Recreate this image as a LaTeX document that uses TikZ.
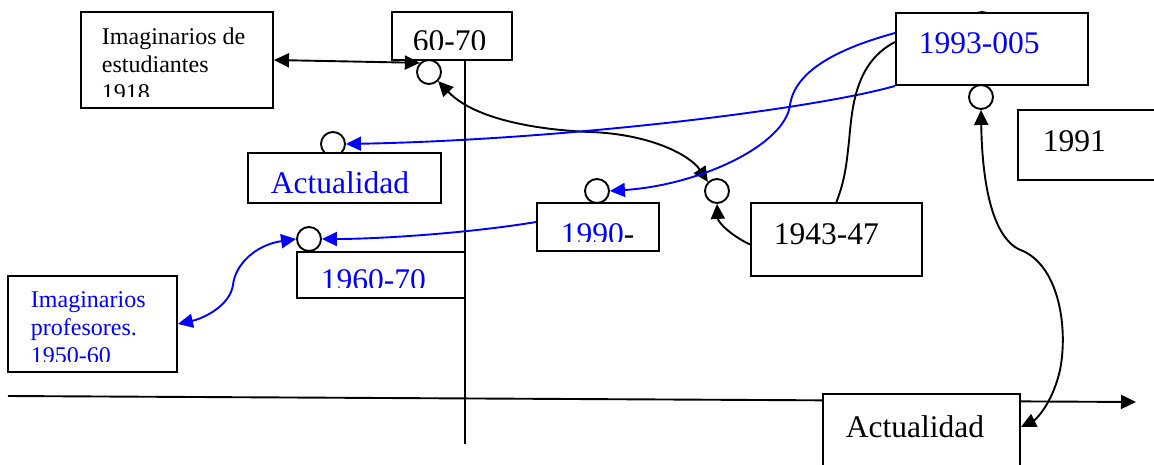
\documentclass[tikz,border=0pt]{standalone}
\usepackage{fontspec}
\setmainfont{Liberation Serif}
\usetikzlibrary{arrows.meta}

\begin{document}
\begin{tikzpicture}[x=1pt, y=-1pt, line width=1.9pt,
  box/.style={draw, fill=white, inner sep=0pt},
  ring/.style={draw, circle, fill=white, minimum size=24pt, inner sep=0pt},
  bigtxt/.style={font=\fontsize{31.5}{36}\selectfont, inner sep=0pt, anchor=base west},
  smalltxt/.style={font=\fontsize{24}{28}\selectfont, inner sep=0pt, anchor=base west, align=left},
  onehead/.style={-{Triangle[length=15pt, width=14pt]}},
  twohead/.style={{Triangle[length=15pt, width=14pt]}-{Triangle[length=15pt, width=14pt]}}]
\useasboundingbox (0,0) rectangle (1154,464);

\coordinate (vT) at (465,60);
\coordinate (vB) at (465,444);
\coordinate (axL) at (8,396);
\coordinate (axR) at (1136,402);
\draw (vT) -- (vB);
\draw[onehead] (axL) -- (axR);

\node[ring] (c6070) at (429,72) {};
\node[ring] (c1993t) at (982,24) {};
\node[ring] (c1993) at (981,97) {};
\node[ring] (cAct) at (333,144) {};
\node[ring] (c1990) at (597,191) {};
\node[ring] (c4347) at (717,191) {};
\node[ring] (c1960) at (309,239) {};

\node[box, minimum width=192pt, minimum height=96pt] (stud) at (177,60) {};
\node[box, minimum width=120pt, minimum height=48pt] (b6070) at (452,36) {};
\node[box, minimum width=192pt, minimum height=72pt] (b1993) at (992,49) {};
\node[box, minimum width=160pt, minimum height=70pt] (b1991) at (1098,145) {};
\node[box, minimum width=193pt, minimum height=50pt] (bActA) at (344.5,178) {};
\node[box, minimum width=122pt, minimum height=48pt] (b1990) at (598,227) {};
\node[box, minimum width=171pt, minimum height=73pt] (b4347) at (836.5,239.5) {};
\node[box, minimum width=168pt, minimum height=46pt] (b1960) at (381,275) {};
\node[box, minimum width=169pt, minimum height=96pt] (bprof) at (92.5,324) {};
\node[box, minimum width=197pt, minimum height=92pt] (bActB) at (921.5,440) {};

\begin{scope}
\clip (stud.north west) rectangle ([yshift=12pt]stud.south east);
\node[smalltxt] (tstud) at (101,100) {Imaginarios de\\estudiantes\\1918};
\end{scope}
\begin{scope}
\clip (b6070.north west) rectangle ([yshift=11pt]b6070.south east);
\node[bigtxt] (t6070) at (412,51) {60-70};
\end{scope}
\begin{scope}
\clip (b1990.north west) rectangle ([yshift=10pt]b1990.south east);
\node[bigtxt] (t1990) at (560,244) {\textcolor{blue}{1990}-};
\end{scope}
\begin{scope}
\clip (b1960.north west) rectangle ([yshift=11pt]b1960.south east);
\node[bigtxt, blue] (t1960) at (320,290) {1960-70};
\end{scope}
\begin{scope}
\clip (bprof.north west) rectangle ([yshift=11pt]bprof.south east);
\node[smalltxt, blue] (tprof) at (30,363) {Imaginarios\\profesores.\\1950-60};
\end{scope}
\node[bigtxt, blue] (t1993) at (918,53) {1993-005};
\node[bigtxt] (t1991) at (1042,151) {1991};
\node[bigtxt, blue] (tActA) at (270,193) {Actualidad};
\node[bigtxt] (t4347) at (773,244) {1943-47};
\node[bigtxt] (tActB) at (845,437) {Actualidad};

\draw[twohead] (stud.east) -- (c6070.north west);
\draw[twohead] (c6070.south east) .. controls (475,120) and (540,130) .. (590,132) .. controls (650,134) and (690,155) .. (c4347.north west);
\draw[blue, onehead] ([yshift=16pt]b1993.west) .. controls (840,48) and (795,70) .. (790,105) .. controls (785,145) and (700,185) .. (c1990.east);
\draw[blue, onehead] (b1993.south west) .. controls (810,110) and (560,140) .. (cAct.east);
\draw ([yshift=7pt]b1993.west) .. controls (850,65) and (852,120) .. (848,150) .. controls (845,180) and (840,192) .. (b4347.north);
\draw[onehead] ([yshift=-5pt]b4347.west) .. controls (730,235) and (718,222) .. (c4347.south);
\draw[blue, onehead] ([yshift=5pt]b1990.west) .. controls (470,233) and (380,239) .. (c1960.east);
\draw[blue, twohead] (c1960.west) .. controls (255,245) and (235,265) .. (233,285) .. controls (230,305) and (205,318) .. (bprof.east);
\draw[twohead] (c1993.south) .. controls (982,175) and (990,240) .. (1023,251) .. controls (1060,268) and (1068,330) .. (1060,370) .. controls (1052,405) and (1035,420) .. ([yshift=13pt]bActB.east);
\end{tikzpicture}
\end{document}
